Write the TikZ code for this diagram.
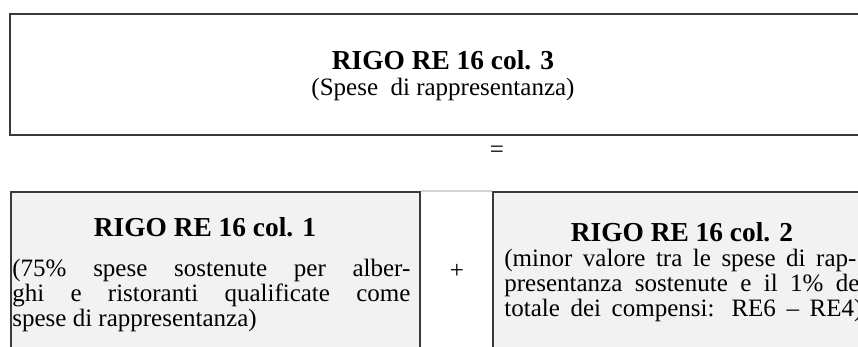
\documentclass[tikz,border=0pt]{standalone}
\usepackage{fontspec}
\setmainfont{Liberation Serif}
\definecolor{cellgray}{HTML}{F2F2F2}
\definecolor{rulegray}{HTML}{3A3A3A}
\begin{document}
\begin{tikzpicture}[x=0.5pt,y=-0.5pt,
		cella/.style={draw=rulegray,line width=1pt,fill=cellgray,anchor=north west,inner sep=0pt,minimum width=204.5pt,minimum height=90pt},
		titolo/.style={anchor=base,inner sep=0pt,font=\fontsize{13.7}{16}\selectfont\bfseries},
		testo/.style={anchor=base west,inner sep=0pt,align=left,font=\fontsize{12.5}{12.5}\selectfont}]
	\useasboundingbox (0,0) rectangle (858,347);
	\clip (0,0) rectangle (858,347);
	\node[draw=rulegray,line width=1pt,inner sep=0pt,minimum width=433pt,minimum height=60.5pt] (rigo3) at (443,74.5) {};
	\node[titolo] (t3) at (443,70) {RIGO RE 16 col. 3};
	\node[testo,anchor=base] (s3) at (443,96) {(Spese\ \ di rappresentanza)};
	\node[testo,anchor=base] (uguale) at (497,158) {=};
	\node[cella] (col1) at (10,191) {};
	\node[cella] (col2) at (492,191) {};
	\draw[gray!35,line width=0.6pt] (col1.north east)--(col2.north west);
	\node[testo,anchor=base] (piu) at (457,279) {+};
	\node[titolo] (t1) at (205,237) {RIGO RE 16 col. 1};
	\node[testo] (s1) at (12,327) {\makebox[199pt][s]{(75\% spese sostenute per alber-}\\
		\makebox[199pt][s]{ghi e ristoranti qualificate come}\\
		spese di rappresentanza)};
	\node[titolo] (t2) at (682,242) {RIGO RE 16 col. 2};
	\node[testo] (s2) at (504,317) {\makebox[176pt][s]{(minor valore tra le spese di rap-}\\
		\makebox[181pt][s]{presentanza sostenute e il 1\% del}\\
		\makebox[179pt][s]{totale dei compensi: RE6 -- RE4)}};
\end{tikzpicture}
\end{document}
